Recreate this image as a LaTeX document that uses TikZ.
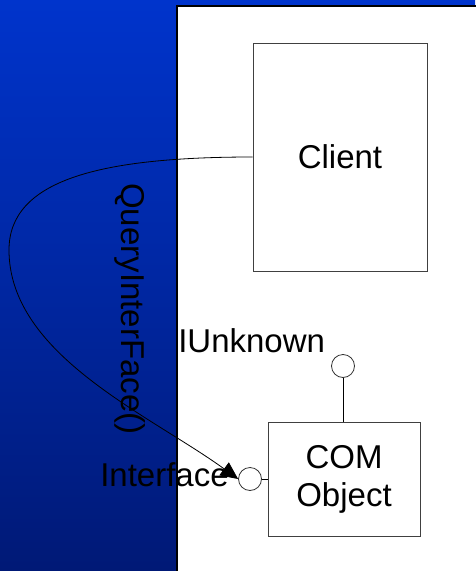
\documentclass[tikz,border=0pt]{standalone}
\usepackage{fontspec}
\setmainfont{Liberation Sans}
\usetikzlibrary{arrows.meta}

\definecolor{slidetop}{RGB}{0,52,204}
\definecolor{slidebottom}{RGB}{0,25,118}
\tikzset{
  box/.style={draw=black!75,line width=0.6pt,fill=white,inner sep=0pt},
  lollipop/.style={circle,draw=black!80,line width=0.6pt,fill=white,minimum size=17.25pt,inner sep=0pt},
  txt/.style={font=\fontsize{24.75}{28.5}\selectfont,inner sep=0pt},
}

\begin{document}
\begin{tikzpicture}[x=0.75pt,y=-0.75pt]
        \useasboundingbox (0,0) rectangle (475,571);
        % Draw the slide background
        \shade[top color=slidetop,bottom color=slidebottom] (0,0) rectangle (475,571);
        \fill[white] (177,6) rectangle (477,573);
        \draw[line width=1pt] (177,573) -- (177,6) -- (477,6);
        % Draw boxes
        \node[box,txt,minimum width=130.5pt,minimum height=171pt] (client) at (340,157) {Client};
        \node[box,txt,align=center,minimum width=114pt,minimum height=85.5pt] (com) at (344,479) {COM\\Object};
        % Draw interfaces
        \node[lollipop] (iface) at (250,479) {};
        \node[lollipop] (iunk) at (343,366) {};
        \draw[line width=0.6pt] (iface) -- (com);
        \draw[line width=0.6pt] (iunk.south) -- (iunk.south |- com.north);
        % Labels
        \node[txt,anchor=base west] (iunklabel) at (178,352) {IUnknown};
        \node[txt,anchor=base west] (ifacelabel) at (100,486) {Interface};
        \node[txt,anchor=base west,rotate=-90] (querylabel) at (121,183) {QueryInterFace()};
        % Draw the call
        \draw[line width=0.6pt,-{Triangle[length=13pt,width=12pt]}] (client.west)
            .. controls (100,157) and (9,180) .. (9,250)
            .. controls (9,355) and (150,415) .. (iface.west);
    \end{tikzpicture}
\end{document}
